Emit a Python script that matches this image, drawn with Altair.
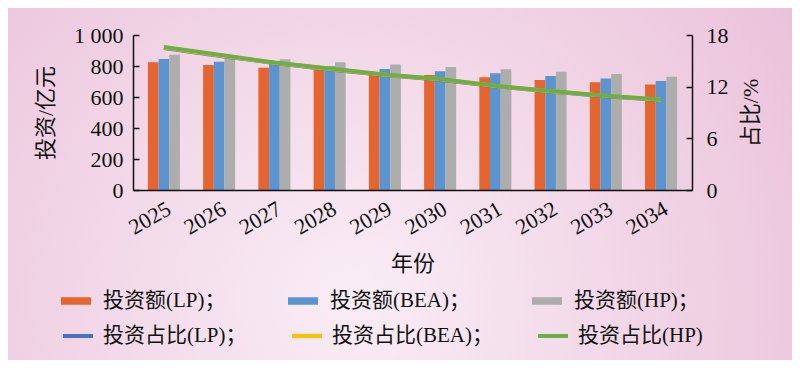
import altair as alt
import pandas as pd

years = ["2025", "2026", "2027", "2028", "2029", "2030", "2031", "2032", "2033", "2034"]
inv_lp = [824, 806, 789, 774, 757, 742, 727, 710, 695, 680]
inv_bea = [845, 828, 815, 798, 781, 766, 753, 735, 720, 703]
inv_hp = [873, 850, 843, 824, 809, 794, 779, 763, 748, 731]
share_lp = [16.5, 15.6, 14.75, 14.0, 13.35, 12.8, 12.05, 11.45, 10.9, 10.45]
share_bea = [16.55, 15.65, 14.78, 14.05, 13.38, 12.85, 12.08, 11.48, 10.93, 10.48]
share_hp = [16.6, 15.7, 14.8, 14.1, 13.4, 12.9, 12.1, 11.5, 10.95, 10.5]

bar_names = ["投资额(LP)；", "投资额(BEA)；", "投资额(HP)；"]
line_names = ["投资占比(LP)；", "投资占比(BEA)；", "投资占比(HP)"]
bar_colors = ["#E4652F", "#5B94CF", "#ADADAD"]
line_colors = ["#4472C4", "#FFC000", "#6DAE45"]

FONT = "Liberation Serif, Noto Sans CJK SC"

bar_rows = []
for name, vals in zip(bar_names, [inv_lp, inv_bea, inv_hp]):
    for y, v in zip(years, vals):
        bar_rows.append({"year": y, "series": name, "value": v})
bar_df = pd.DataFrame(bar_rows)

line_dfs = []
for name, vals in zip(line_names, [share_lp, share_bea, share_hp]):
    line_dfs.append(pd.DataFrame({"year": years, "series": name, "value": vals}))

W, H = 559, 155

x_scale = alt.Scale(paddingInner=0.42, paddingOuter=0.27)
x_axis = alt.Axis(
    title="年份", labelAngle=-30, labelFontSize=22, labelFont=FONT, labelColor="#111",
    titleFont=FONT, titleFontSize=22, titleFontWeight="normal", titleColor="#111",
    titlePadding=15, ticks=False, labelPadding=8, domainColor="#111", domainWidth=1.5,
    zindex=2,
)

bg = alt.Chart(pd.DataFrame({"a": [0]})).mark_rect(
    color=alt.RadialGradient(
        gradient="radial", x1=0.42, y1=0.62, r1=0, x2=0.42, y2=0.62, r2=0.75,
        stops=[alt.GradientStop(offset=0, color="#f9edf5"),
               alt.GradientStop(offset=1, color="#e8b8d5")],
    )
).encode(x=alt.value(-140), x2=alt.value(720), y=alt.value(-40), y2=alt.value(360))

bars = alt.Chart(bar_df).mark_bar().encode(
    x=alt.X("year:N", sort=years, scale=x_scale, axis=x_axis),
    xOffset=alt.XOffset("series:N", sort=bar_names, scale=alt.Scale(paddingInner=0, paddingOuter=0)),
    y=alt.Y("value:Q", scale=alt.Scale(domain=[0, 1000]),
            axis=alt.Axis(title="投资/亿元", orient="left", values=[0, 200, 400, 600, 800, 1000],
                          labelExpr="datum.value == 1000 ? '1 000' : datum.label",
                          labelFontSize=22, labelFont=FONT, labelColor="#111", labelPadding=10,
                          titleFont=FONT, titleFontSize=22, titleFontWeight="normal", titleColor="#111",
                          titlePadding=16, ticks=False, grid=True, gridDash=[6, 2000], gridColor="#111",
                          gridWidth=1.5, domainColor="#111", domainWidth=1.5, zindex=2)),
    fill=alt.Fill("series:N", sort=bar_names,
                  scale=alt.Scale(domain=bar_names, range=bar_colors),
                  legend=alt.Legend(title=None, orient="none", legendX=-72, legendY=251,
                                    direction="horizontal", columns=3, gridAlign="each",
                                    columnPadding=62, symbolType="M-1,-0.25H1V0.25H-1Z",
                                    symbolSize=900, symbolStrokeWidth=0, labelOffset=12,
                                    labelFontSize=21, labelFont=FONT, labelColor="#111",
                                    labelLimit=400)),
)

line_layers = []
for df in line_dfs:
    line_layers.append(
        alt.Chart(df).mark_line(strokeWidth=4).encode(
            x=alt.X("year:N", sort=years, scale=x_scale, axis=x_axis),
            y=alt.Y("value:Q", scale=alt.Scale(domain=[0, 18]),
                    axis=alt.Axis(title="占比/%", orient="right", values=[0, 6, 12, 18],
                                  labelFontSize=22, labelFont=FONT, labelColor="#111", labelPadding=14,
                                  titleFont=FONT, titleFontSize=22, titleFontWeight="normal",
                                  titleColor="#111", titleAngle=270, titlePadding=34, ticks=False,
                                  grid=True, gridDash=[6, 2000], gridColor="#111", gridWidth=1.5,
                                  domainColor="#111", domainWidth=1.5, zindex=2)),
            stroke=alt.Stroke("series:N", sort=line_names,
                              scale=alt.Scale(domain=line_names, range=line_colors),
                              legend=alt.Legend(title=None, orient="none", legendX=-72, legendY=284,
                                                direction="horizontal", columns=3, gridAlign="each",
                                                columnPadding=37, symbolType="stroke",
                                                symbolSize=900, symbolStrokeWidth=4, labelOffset=8,
                                                labelFontSize=21, labelFont=FONT, labelColor="#111",
                                                labelLimit=400)),
        )
    )
lines = alt.layer(*line_layers)

chart = alt.layer(bg, bars, lines).resolve_scale(y="independent").properties(
    width=W, height=H,
    autosize=alt.AutoSizeParams(type="none"),
    padding={"left": 125, "top": 27, "right": 100, "bottom": 170},
    background="#e9bcd7",
).configure_view(stroke=None)

chart.save("out.html", embed_options={"renderer": "svg", "actions": False})
